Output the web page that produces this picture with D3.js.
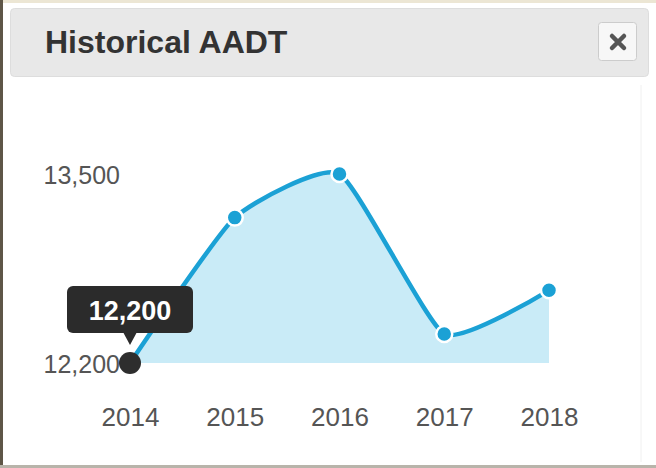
<!DOCTYPE html>
<html>
<head>
<meta charset="utf-8">
<script src="https://cdn.jsdelivr.net/npm/d3@7"></script>
<style>
  html, body { margin: 0; padding: 0; background: #fff; }
  svg { display: block; font-family: Arial, "Liberation Sans", sans-serif; }
</style>
</head>
<body>
<div id="chart"></div>
<script>
(function(){
  const years = ["2014", "2015", "2016", "2017", "2018"];
  const aadt = [12200, 13200, 13500, 12400, 12700];
  const yTicks = [12200, 13500];
  const title = "Historical AADT";

  const width = 656;
  const height = 468;

  const svg = d3.select("#chart")
    .append("svg")
    .attr("width", width)
    .attr("height", height);

  // window frame
  svg.append("rect").attr("x", 0).attr("y", 0).attr("width", width).attr("height", 3).attr("fill", "#ece6d4");
  svg.append("rect").attr("x", 0).attr("y", 0).attr("width", 3).attr("height", height).attr("fill", "#5e5647");
  svg.append("rect").attr("x", 0).attr("y", height - 3).attr("width", width).attr("height", 3).attr("fill", "#b8b4aa");
  svg.append("line").attr("x1", 641).attr("x2", 641).attr("y1", 85).attr("y2", 462).attr("stroke", "#f0f0f0");

  // header
  svg.append("rect")
    .attr("x", 10.5).attr("y", 8.5)
    .attr("width", 638).attr("height", 68)
    .attr("rx", 4)
    .attr("fill", "#e8e8e8")
    .attr("stroke", "#dddddd");

  svg.append("text")
    .attr("x", 45).attr("y", 53)
    .attr("font-size", 32)
    .attr("font-weight", "bold")
    .attr("fill", "#333")
    .text(title);

  // close button
  const btn = svg.append("g").attr("transform", "translate(618,42)");
  btn.append("rect")
    .attr("x", -19.5).attr("y", -19.5)
    .attr("width", 38).attr("height", 38)
    .attr("rx", 3)
    .attr("fill", "#f7f7f7")
    .attr("stroke", "#cccccc");
  btn.append("path")
    .attr("d", "M-6,-6L6,6M6,-6L-6,6")
    .attr("stroke", "#555")
    .attr("stroke-width", 4.5)
    .attr("stroke-linecap", "round");

  const x = d3.scalePoint()
    .domain(years)
    .range([130, 549]);

  const y = d3.scaleLinear()
    .domain([12200, 13500])
    .range([363, 174]);

  const data = years.map((yr, i) => ({ year: yr, value: aadt[i] }));
  const curve = d3.curveCardinal.tension(0.5);

  const area = d3.area()
    .x(d => x(d.year))
    .y0(y(12200))
    .y1(d => y(d.value))
    .curve(curve);

  const line = d3.line()
    .x(d => x(d.year))
    .y(d => y(d.value))
    .curve(curve);

  svg.append("path")
    .datum(data)
    .attr("d", area)
    .attr("fill", "#c9ebf7");

  svg.append("path")
    .datum(data)
    .attr("d", line)
    .attr("fill", "none")
    .attr("stroke", "#1ba1d5")
    .attr("stroke-width", 4.5);

  // axes
  const yAxis = svg.append("g")
    .attr("transform", "translate(120,0)")
    .call(d3.axisLeft(y).tickValues(yTicks).tickFormat(d3.format(",")).tickSize(0).tickPadding(0));
  yAxis.select(".domain").remove();
  yAxis.selectAll("text")
    .attr("font-size", 25)
    .attr("fill", "#555")
    .attr("font-family", "Arial, 'Liberation Sans', sans-serif")
    .attr("dy", "0.36em");

  const xAxis = svg.append("g")
    .attr("transform", "translate(0,408)")
    .call(d3.axisBottom(x).tickSize(0).tickPadding(0));
  xAxis.select(".domain").remove();
  xAxis.selectAll("text")
    .attr("font-size", 26)
    .attr("fill", "#555")
    .attr("font-family", "Arial, 'Liberation Sans', sans-serif")
    .attr("dy", "0.71em");

  // points
  svg.selectAll(".dot")
    .data(data.slice(1))
    .enter().append("circle")
    .attr("class", "dot")
    .attr("cx", d => x(d.year))
    .attr("cy", d => y(d.value))
    .attr("r", 8)
    .attr("fill", "#1ba1d5")
    .attr("stroke", "#fff")
    .attr("stroke-width", 2.5);

  // hovered point
  const hov = data[0];
  svg.append("circle")
    .attr("cx", x(hov.year))
    .attr("cy", y(hov.value))
    .attr("r", 11)
    .attr("fill", "#2e2e2e");

  // tooltip
  const tx = x(hov.year), ty = y(hov.value);
  const tip = svg.append("g").attr("transform", `translate(${tx},${ty})`);
  tip.append("rect")
    .attr("x", -63).attr("y", -77)
    .attr("width", 126).attr("height", 47)
    .attr("rx", 6)
    .attr("fill", "#2b2b2b");
  tip.append("path")
    .attr("d", "M-7,-31L0,-18L7,-31Z")
    .attr("fill", "#2b2b2b");
  tip.append("text")
    .attr("x", 0).attr("y", -43)
    .attr("text-anchor", "middle")
    .attr("font-size", 27)
    .attr("font-weight", "bold")
    .attr("fill", "#fff")
    .text(d3.format(",")(hov.value));
})();
</script>
</body>
</html>
